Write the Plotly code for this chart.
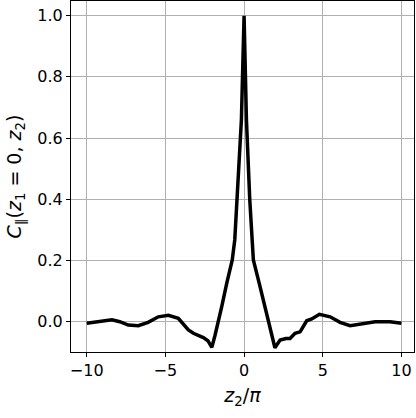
import plotly.graph_objects as go

z2_over_pi = [-10.0, -9.15, -8.4, -7.9, -7.36, -6.72, -6.1, -5.45, -4.81, -4.18,
              -3.54, -3.22, -2.59, -2.3, -2.05, -1.85, -1.63, -1.42, -1.1, -0.75,
              -0.59, -0.45, -0.17, 0.0, 0.15, 0.36, 0.51, 0.59, 0.96, 1.34,
              1.55, 1.75, 1.96, 2.29, 2.67, 2.92, 3.24, 3.56, 3.98, 4.3,
              4.79, 5.47, 6.1, 6.74, 7.48, 8.33, 9.28, 10.0]
corr = [-0.005, 0.0, 0.006, 0.0, -0.011, -0.013, -0.002, 0.016, 0.021, 0.011,
        -0.027, -0.038, -0.052, -0.062, -0.084, -0.045, 0.0, 0.049, 0.126, 0.202,
        0.268, 0.40, 0.66, 1.0, 0.66, 0.40, 0.268, 0.202, 0.126, 0.049,
        0.0, -0.045, -0.085, -0.06, -0.055, -0.055, -0.038, -0.033, 0.003, 0.009,
        0.024, 0.016, -0.002, -0.013, -0.008, 0.0, 0.0, -0.005]

x_ticks = [-10, -5, 0, 5, 10]
x_tick_labels = ["−10", "−5", "0", "5", "10"]
y_ticks = [0.0, 0.2, 0.4, 0.6, 0.8, 1.0]
y_tick_labels = ["0.0", "0.2", "0.4", "0.6", "0.8", "1.0"]

fig = go.Figure()
fig.add_trace(go.Scatter(x=z2_over_pi, y=corr, mode="lines",
                         line=dict(color="black", width=3.5),
                         showlegend=False, hoverinfo="skip"))

axis_common = dict(
    showline=True, linecolor="black", linewidth=1.2, mirror=True,
    ticks="outside", ticklen=4, tickwidth=1.2, tickcolor="black",
    showgrid=True, gridcolor="#b0b0b0", gridwidth=1,
    zeroline=False, automargin=False,
    tickfont=dict(family="DejaVu Sans", size=16, color="black"),
)

fig.update_xaxes(range=[-11.0, 10.8], tickvals=x_ticks, ticktext=x_tick_labels,
                 title=dict(text="<i>z</i><sub>2</sub>/<i>π</i>",
                            font=dict(family="DejaVu Sans", size=19, color="black"),
                            standoff=9),
                 **axis_common)
fig.update_yaxes(range=[-0.099, 1.048], tickvals=y_ticks, ticktext=y_tick_labels,
                 title=dict(text="<i>C</i><sub>∥</sub>(<i>z</i><sub>1</sub> = 0, <i>z</i><sub>2</sub>)",
                            font=dict(family="DejaVu Sans", size=19, color="black"),
                            standoff=10),
                 **axis_common)

fig.update_layout(width=416, height=418,
                  margin=dict(l=71, r=2, t=1, b=66),
                  plot_bgcolor="white", paper_bgcolor="white")

fig.write_html("out.html",
               config={"displayModeBar": False},
               post_script="document.body.style.margin='0';document.body.style.overflow='hidden';")
